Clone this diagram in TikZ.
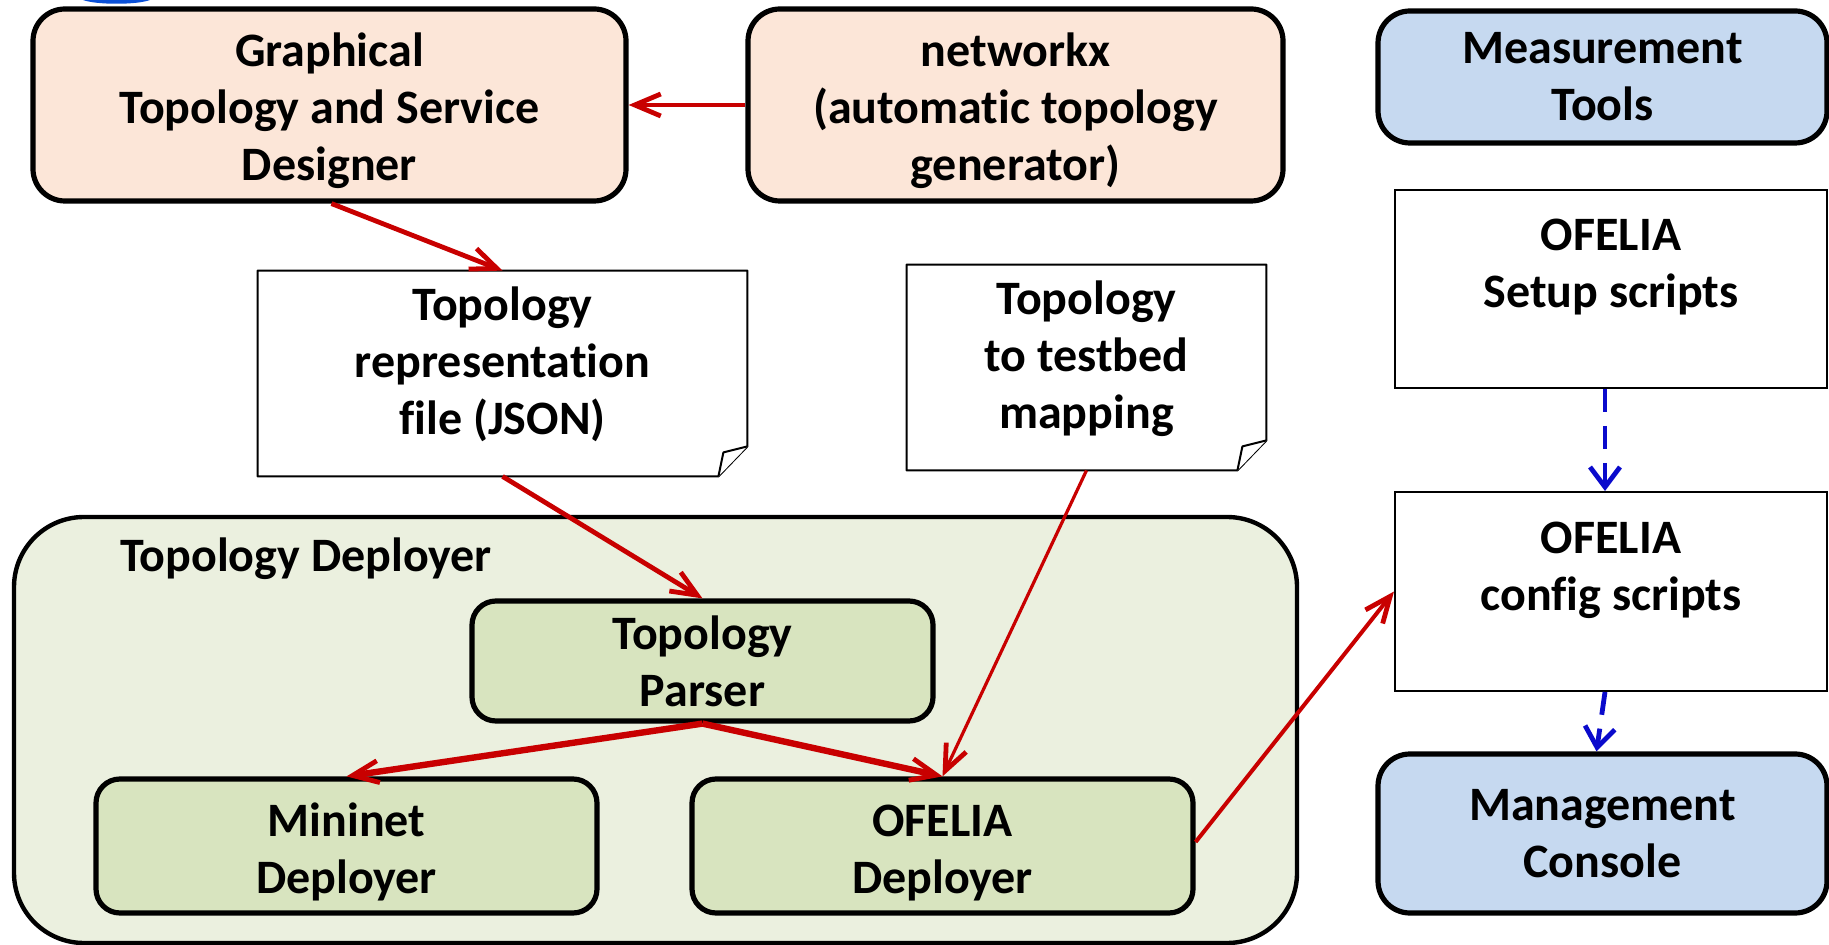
\documentclass[tikz,border=0pt]{standalone}
\usepackage{fontspec}
\setmainfont{Carlito}[Ligatures=NoCommon]
\usetikzlibrary{arrows.meta}

\definecolor{peach}{HTML}{FCE6D8}
\definecolor{lightblue}{HTML}{C6D9F0}
\definecolor{paleGreen}{HTML}{EBF0DF}
\definecolor{midGreen}{HTML}{D8E4BF}
\definecolor{arrowRed}{HTML}{C80000}
\definecolor{dashBlue}{HTML}{0A0ACC}
\definecolor{markBlue}{HTML}{0A50D8}

% strut that lowers the text a little in the boxes
\newcommand\lowstrut{\rule{0pt}{23pt}}

\tikzset{
    txt/.style={font=\bfseries\fontsize{24}{28.5}\selectfont, align=center},
    roundbox/.style={txt, draw=black, line width=2.6pt, rounded corners=16pt},
    innerbox/.style={roundbox, fill=midGreen, rounded corners=12pt,
        minimum width=250.5pt, minimum height=67pt},
    docbox/.style={minimum width=#1, minimum height=102.5pt, inner sep=0pt},
    plainbox/.style={draw=black, line width=1pt, minimum width=216pt, inner sep=0pt},
    docline/.style={draw=black, fill=white, line width=1pt, line join=round},
    redarrow/.style={draw=arrowRed, line width=2.4pt,
        -{Straight Barb[length=13pt,width=11pt,line width=2.4pt]}},
    bluearrow/.style={draw=dashBlue, line width=2.4pt, dash pattern=on 11.5pt off 7pt,
        -{Straight Barb[length=10pt,width=15pt,line width=2.4pt]}},
}

\newcommand\drawdoc[1]{%
    \draw[docline] (#1.north west) -- (#1.north east) -- ([yshift=15pt]#1.south east)
        -- ([xshift=-14.5pt]#1.south east) -- (#1.south west) -- cycle;
    \draw[docline] ([xshift=-14.5pt]#1.south east) -- ([xshift=-12pt,yshift=12pt]#1.south east)
        -- ([yshift=15pt]#1.south east);
}

\begin{document}
\begin{tikzpicture}[x=0.5pt, y=-0.5pt]
    \useasboundingbox (0,0) rectangle (1829,945);

    % partly hidden mark at the top edge
    \fill[markBlue] (83,0) .. controls (96,5) and (137,5) .. (150,0) -- cycle;

    % sources of the topology
    \node[roundbox, fill=peach, minimum width=296.5pt, minimum height=96pt] (design) at (329.5,105)
        {\lowstrut Graphical\\Topology and Service\\Designer};
    \node[roundbox, fill=peach, minimum width=267.5pt, minimum height=96pt] (nx) at (1015.5,105)
        {\lowstrut networkx\\(automatic topology\\generator)};

    % files
    \node[docbox=244.5pt] (repfile) at (502.5,373.5) {};
    \drawdoc{repfile}
    \node[txt] (repfile-text) at (502.5,364) {Topology\\representation\\file (JSON)};
    \node[docbox=179.5pt] (mapping) at (1086.5,367.5) {};
    \drawdoc{mapping}
    \node[txt] (mapping-text) at (1086.5,359) {Topology\\to testbed\\mapping};

    % deployer
    \node[draw=black, fill=paleGreen, line width=2.2pt, rounded corners=35pt,
        minimum width=641.5pt, minimum height=213pt] (deployer) at (655.5,730) {};
    \node[txt, anchor=west] (deployer-title) at (113,559) {Topology Deployer};
    \node[innerbox, minimum width=230.5pt, minimum height=60pt] (parser) at (702.5,661)
        {Topology\\Parser};
    \node[innerbox] (mininet) at (346.5,846) {\lowstrut Mininet\\Deployer};
    \node[innerbox] (ofdep) at (942.5,846) {\lowstrut OFELIA\\Deployer};

    % testbed side
    \node[roundbox, fill=lightblue, minimum width=224.5pt, minimum height=66pt] (meas) at (1602.5,77)
        {Measurement\\Tools};
    \node[plainbox, minimum height=99pt] (setup) at (1611,289) {};
    \node[txt] (setup-text) at (1611,267) {OFELIA\\Setup scripts};
    \node[plainbox, minimum height=99.5pt] (config) at (1611,591.5) {};
    \node[txt] (config-text) at (1611,570) {OFELIA\\config scripts};
    \node[roundbox, fill=lightblue, minimum width=224.5pt, minimum height=79.5pt] (mgmt) at (1602.5,833.5)
        {Management\\Console};

    % connectors
    \draw[redarrow] (nx.west) -- (design.east);
    \draw[redarrow] ([xshift=1pt]design.south) -- (repfile.north);
    \draw[redarrow] (repfile.south) -- (parser.north);
    \draw[redarrow, line width=1.6pt] (mapping.south) -- (ofdep.north);
    \draw[redarrow, line width=3.2pt] (parser.south) -- (mininet.north);
    \draw[redarrow, line width=3.2pt] (parser.south) -- (ofdep.north);
    \draw[redarrow, line width=2pt] ([yshift=2pt]ofdep.east) -- (config.west);
    \draw[bluearrow] ([xshift=-3pt]setup.south) -- ([xshift=-3pt]config.north);
    \draw[bluearrow] ([xshift=-3pt]config.south) -- ([xshift=-3pt]mgmt.north);
\end{tikzpicture}
\end{document}
